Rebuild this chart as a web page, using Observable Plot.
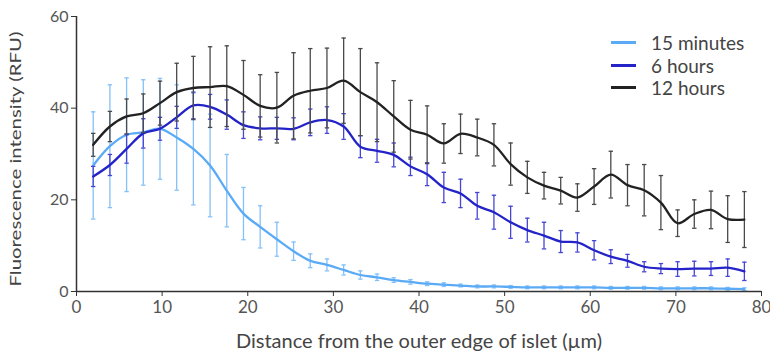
<!DOCTYPE html>
<html>
<head>
<meta charset="utf-8">
<script src="https://cdn.jsdelivr.net/npm/d3@7"></script>
<script src="https://cdn.jsdelivr.net/npm/@observablehq/plot@0.6"></script>
<style>
  html, body { margin: 0; padding: 0; background: #fff; }
  #wrap { position: relative; width: 770px; height: 353px; font-family: Lato, "Open Sans", sans-serif; }
  #legend { position: absolute; left: 611px; top: 31px; font-size: 19px; color: #444; }
  #legend .row { display: flex; align-items: center; height: 22.7px; }
  #legend .sw { width: 25px; height: 3px; margin-right: 15px; }
</style>
</head>
<body>
<div id="wrap"><div id="legend"></div></div>
<script>
// Distance from the outer edge of the islet (µm)
const distance = [1.95, 3.9, 5.85, 7.8, 9.75, 11.7, 13.65, 15.6, 17.55, 19.5,
  21.45, 23.4, 25.35, 27.3, 29.25, 31.2, 33.15, 35.1, 37.05, 39,
  40.95, 42.9, 44.85, 46.8, 48.75, 50.7, 52.65, 54.6, 56.55, 58.5,
  60.45, 62.4, 64.35, 66.3, 68.25, 70.2, 72.15, 74.1, 76.05, 78];

const seriesNames = ["15 minutes", "6 hours", "12 hours"];
const seriesColors = ["#5aaaf6", "#2323c8", "#222222"];
const errColors = ["#84c0f9", "#4646d4", "#4a4a4a"];

const mean15min = [27.5, 31.7, 34.2, 34.7, 35.5, 33.6, 31.1, 27.5, 22.0, 17.0,
  14.1, 11.4, 8.8, 6.7, 5.8, 4.7, 3.6, 3.1, 2.5, 2.1,
  1.7, 1.5, 1.3, 1.1, 1.1, 1.0, 0.9, 0.9, 0.9, 0.9,
  0.9, 0.8, 0.8, 0.8, 0.7, 0.7, 0.7, 0.7, 0.6, 0.5];
const err15min = [11.7, 13.4, 12.4, 11.5, 11.0, 11.5, 12.2, 11.2, 7.9, 5.7,
  4.6, 3.7, 2.0, 1.5, 1.3, 1.1, 0.9, 0.7, 0.5, 0.5,
  0.4, 0.4, 0.3, 0.3, 0.3, 0.3, 0.3, 0.3, 0.3, 0.3,
  0.3, 0.3, 0.3, 0.3, 0.3, 0.3, 0.3, 0.3, 0.3, 0.3];

const mean6h = [25.1, 27.6, 31.1, 34.5, 35.5, 38.0, 40.6, 40.3, 38.6, 36.3,
  35.6, 35.6, 35.5, 36.9, 37.4, 36.0, 31.6, 30.7, 29.8, 27.3,
  25.6, 22.7, 21.4, 18.7, 17.3, 15.1, 13.4, 12.2, 10.9, 10.7,
  9.0, 7.6, 6.7, 5.4, 5.0, 4.9, 5.0, 5.0, 5.2, 4.4];
const err6h = [2.2, 2.3, 3.1, 3.2, 2.5, 2.4, 2.9, 2.7, 3.2, 2.9,
  2.5, 2.4, 2.4, 2.9, 2.9, 2.8, 2.4, 2.5, 2.6, 2.0,
  2.5, 3.3, 3.1, 2.9, 3.7, 3.5, 2.6, 2.9, 2.4, 2.1,
  2.1, 1.5, 1.4, 1.1, 1.1, 1.6, 1.6, 1.5, 1.9, 2.0];

const mean12h = [32.0, 36.0, 38.2, 38.9, 41.1, 43.5, 44.4, 44.6, 44.8, 42.9,
  40.5, 40.1, 42.7, 43.8, 44.4, 46.0, 43.5, 41.3, 38.2, 35.3,
  34.2, 32.3, 34.4, 33.6, 32.0, 27.8, 24.9, 23.1, 22.0, 20.5,
  22.9, 25.5, 23.2, 22.1, 19.4, 14.9, 16.9, 17.8, 15.8, 15.7];
const err12h = [2.5, 3.3, 3.8, 4.2, 4.8, 6.3, 6.9, 8.8, 8.8, 7.5,
  6.8, 7.7, 9.4, 9.2, 8.7, 9.3, 9.5, 8.6, 7.8, 6.4,
  6.3, 4.3, 4.3, 4.0, 4.6, 4.6, 3.5, 2.9, 2.9, 3.0,
  3.9, 5.1, 4.5, 5.6, 5.9, 2.9, 3.1, 4.1, 5.1, 6.1];

const xTicks = [0, 10, 20, 30, 40, 50, 60, 70, 80];
const yTicks = [0, 20, 40, 60];
const xTitle = "Distance from the outer edge of islet (µm)";
const yTitle = "Fluorescence intensity (RFU)";

const means = [mean15min, mean6h, mean12h];
const errs = [err15min, err6h, err12h];

const capSymbol = {
  draw(context, size) {
    const r = Math.sqrt(size / Math.PI);
    context.moveTo(-r, 0);
    context.lineTo(r, 0);
  }
};

const marks = [];
seriesNames.forEach((name, s) => {
  const rows = distance.map((x, i) => ({
    x, y: means[s][i], lo: means[s][i] - errs[s][i], hi: means[s][i] + errs[s][i]
  }));
  marks.push(
    Plot.ruleX(rows, {x: "x", y1: "lo", y2: "hi", stroke: errColors[s], strokeWidth: 1.3}),
    Plot.dot(rows, {x: "x", y: "hi", symbol: capSymbol, r: 2.2, stroke: errColors[s], strokeWidth: 1.3, fill: "none"}),
    Plot.dot(rows, {x: "x", y: "lo", symbol: capSymbol, r: 2.2, stroke: errColors[s], strokeWidth: 1.3, fill: "none"}),
    Plot.line(rows, {x: "x", y: "y", stroke: seriesColors[s], strokeWidth: 2.3, curve: "catmull-rom"})
  );
});

const chart = Plot.plot({
  width: 770,
  height: 353,
  marginLeft: 76,
  marginRight: 9,
  marginTop: 16,
  marginBottom: 62,
  style: {fontFamily: "Lato, 'Open Sans', sans-serif", fontSize: "15px", background: "#fff"},
  x: {domain: [0, 80]},
  y: {domain: [0, 60]},
  marks: [
    Plot.axisX({ticks: xTicks, tickSize: 5, tickPadding: 4, stroke: "#333", color: "#555", fontSize: 17, label: null}),
    Plot.axisX({ticks: [], label: xTitle, labelAnchor: "center", labelOffset: 56, labelArrow: "none", fontSize: 20, color: "#444"}),
    Plot.axisY({ticks: yTicks, tickSize: 5, tickPadding: 3, stroke: "#333", color: "#555", fontSize: 16, label: null}),
    Plot.axisY({ticks: [], label: yTitle, labelAnchor: "center", labelOffset: 66, labelArrow: "none", fontSize: 15, color: "#444"}),
    ...marks,
    Plot.ruleY([0], {stroke: "#333", strokeWidth: 1.5}),
    Plot.ruleX([0], {stroke: "#333", strokeWidth: 1.5})
  ]
});
document.getElementById("wrap").prepend(chart);

// stretch the y title along its length, as in the reference
d3.select(chart).selectAll("text").each(function() {
  if (this.textContent === yTitle) {
    d3.select(this).attr("textLength", 255).attr("lengthAdjust", "spacingAndGlyphs").attr("dx", "-5");
  }
});

const legend = document.getElementById("legend");
seriesNames.forEach((name, s) => {
  const row = document.createElement("div");
  row.className = "row";
  const sw = document.createElement("div");
  sw.className = "sw";
  sw.style.background = seriesColors[s];
  const t = document.createElement("span");
  t.textContent = name;
  row.append(sw, t);
  legend.append(row);
});
</script>
</body>
</html>
